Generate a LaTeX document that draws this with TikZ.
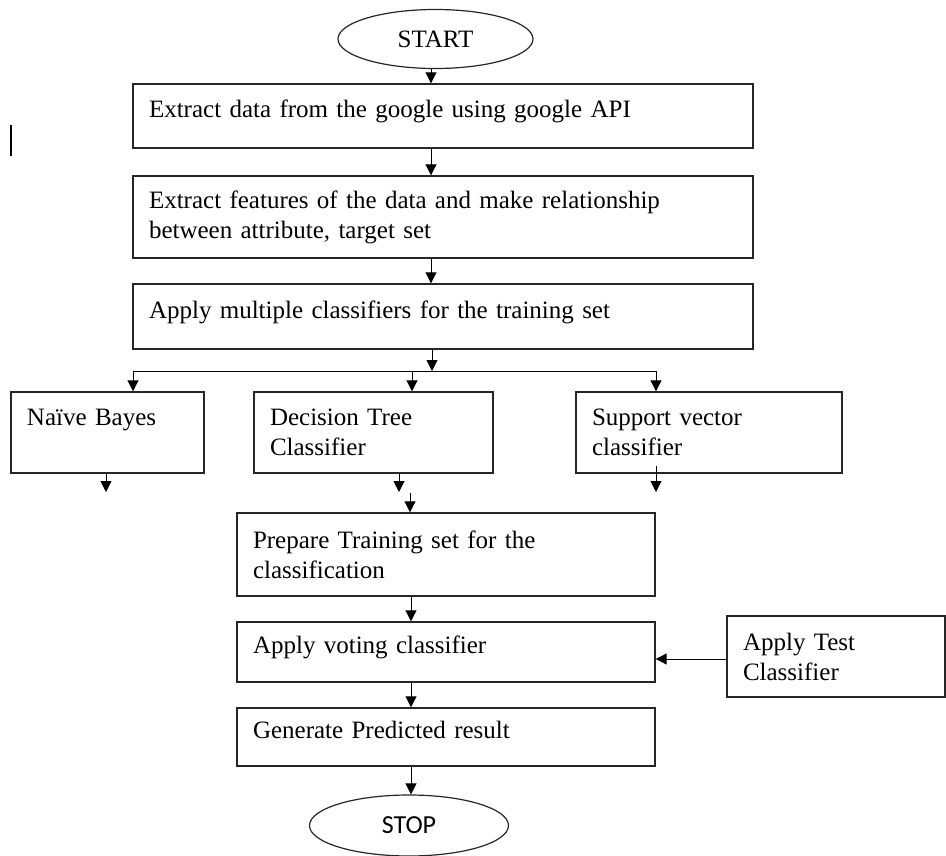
\documentclass[tikz,border=0pt]{standalone}
\usepackage{fontspec}
\setmainfont{Liberation Serif}
\newfontfamily\stopfont{Carlito}
\usetikzlibrary{arrows.meta,shapes.geometric}

\tikzset{
  stepbox/.style={draw=black!85, line width=1.4pt, rectangle, inner xsep=16pt, inner ysep=0pt,
    align=left, font=\fontsize{25}{30}\selectfont},
  oneline/.style={text depth=14pt},
  term/.style={draw=black!85, line width=1.2pt, ellipse, inner sep=0pt},
  arr/.style={line width=1pt, -{Triangle[length=11pt,width=11pt]}},
}

\begin{document}
\begin{tikzpicture}[x=1pt,y=-1pt]
\useasboundingbox (0,0) rectangle (946,856);

\node[term, minimum width=195pt, minimum height=59pt, font=\fontsize{25}{30}\selectfont] (start) at (435.5,39) {START};
\node[stepbox, oneline, minimum height=64pt, text width=588pt] (extract) at (443,116) {Extract data from the google using google API};
\node[stepbox, minimum height=82pt, text width=588pt] (features) at (443,217) {Extract features of the data and make relationship\\between attribute, target set};
\node[stepbox, oneline, minimum height=65pt, text width=588pt] (multi) at (443,316.5) {Apply multiple classifiers for the training set};

\node[stepbox, minimum height=81pt, text width=161pt] (nb) at (107.5,432.5) {Naïve Bayes\\\mbox{}};
\node[stepbox, minimum height=81pt, text width=207pt] (dt) at (373.5,432.5) {Decision Tree\\Classifier};
\node[stepbox, minimum height=81pt, text width=234pt] (svc) at (709,432.5) {Support vector\\classifier};

\node[stepbox, minimum height=83pt, text width=386pt] (prepare) at (446,554.5) {Prepare Training set for the\\classification};
\node[stepbox, oneline, minimum height=60pt, text width=386pt] (vote) at (446,652) {Apply voting classifier};
\node[stepbox, minimum height=81pt, text width=186pt] (test) at (836,656.5) {Apply Test\\Classifier};
\node[stepbox, oneline, minimum height=58pt, text width=386pt] (generate) at (446,737) {Generate Predicted result};
\node[term, minimum width=199pt, minimum height=61pt, font=\stopfont\fontsize{26}{30}\selectfont] (stop) at (409,825.5) {STOP};

% stray cursor mark
\draw[line width=1.3pt] (11,125) -- (11,156);

\coordinate (top) at (431,0);
\coordinate (low) at (411,0);
\coordinate (split) at (432,371);
\coordinate (nbout) at (106,492);
\coordinate (dtout) at (399,492);
\coordinate (svcout) at (656,492);
\coordinate (prepin) at (410,493);

\draw[arr] (start.south -| top) -- (extract.north -| top);
\draw[arr] (extract.south -| top) -- (features.north -| top);
\draw[arr] (features.south -| top) -- (multi.north -| top);
\draw[arr] (multi.south -| split) -- (split);

\draw[line width=1pt] (133,371) -- (656,371);
\foreach \n/\x in {nb/133,dt/412,svc/656}
  \draw[arr] (\x,371) -- (\n.north -| \x,0);

\draw[arr] (nb.south -| nbout) -- (nbout);
\draw[arr] (dt.south -| dtout) -- (dtout);
\draw[arr] ([yshift=8pt]svc.south -| svcout) -- (svcout);
\draw[arr] (prepin) -- (prepare.north -| prepin);

\draw[arr] (prepare.south -| low) -- (vote.north -| low);
\draw[arr] (test.west |- 0,659) -- (vote.east |- 0,659);
\draw[arr] (vote.south -| low) -- (generate.north -| low);
\draw[arr] (generate.south -| low) -- (stop.north -| low);

\end{tikzpicture}
\end{document}
